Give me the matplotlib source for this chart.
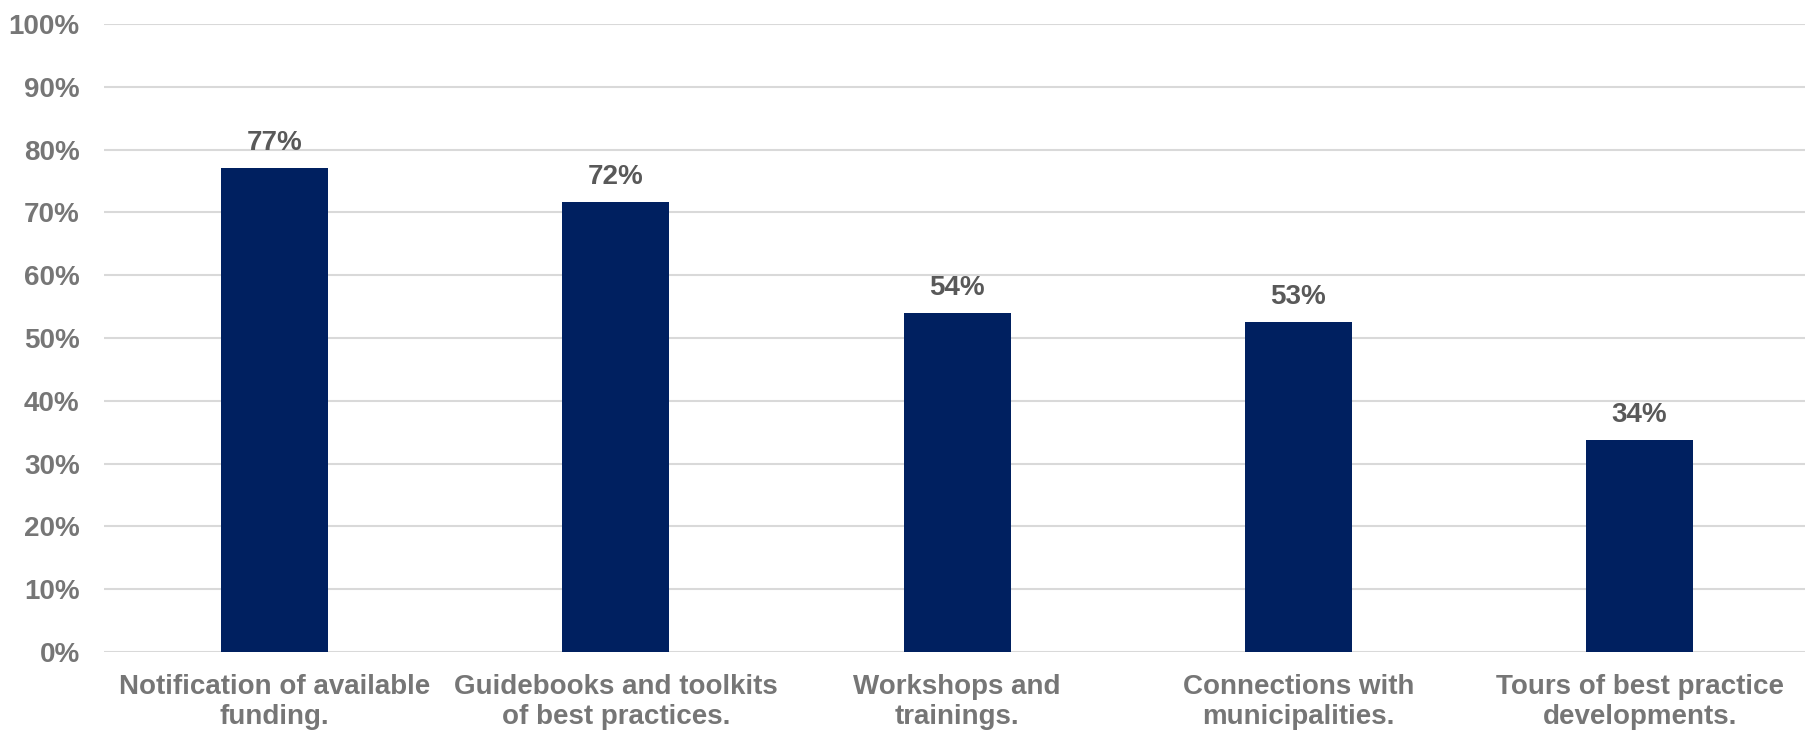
import matplotlib
matplotlib.use("Agg")
import matplotlib.pyplot as plt

categories = [
    "Notification of available\nfunding.",
    "Guidebooks and toolkits\nof best practices.",
    "Workshops and\ntrainings.",
    "Connections with\nmunicipalities.",
    "Tours of best practice\ndevelopments.",
]
values = [77.0, 71.6, 54.0, 52.6, 33.7]
y_ticks = list(range(0, 101, 10))

plt.rcParams["font.family"] = ["Liberation Sans", "DejaVu Sans"]
plt.rcParams["font.weight"] = "bold"

W, H = 1806, 730
fig = plt.figure(figsize=(W / 100, H / 100), dpi=100)
left, right, bottom, top = 104, 1806, 652, 24
ax = fig.add_axes([left / W, (H - bottom) / H, (right - left) / W, (bottom - top) / H])

x = list(range(len(categories)))
ax.bar(x, values, width=0.314, color="#002060", zorder=3)

for xi, v in zip(x, values):
    ax.annotate(f"{v:.0f}%", (xi, v), xytext=(0, 8.7), textcoords="offset points",
                ha="center", va="bottom", fontsize=20, fontweight="bold", color="#595959")

ax.set_ylim(0, 100)
ax.set_xlim(-0.5, -0.5 + (right - left) / 341.25)
ax.set_yticks(y_ticks)
ax.set_yticklabels([f"{t}%" for t in y_ticks])
ax.set_xticks(x)
ax.set_xticklabels(categories)

ax.grid(axis="y", color="#d9d9d9", linewidth=1.5, zorder=0)
for s in ax.spines.values():
    s.set_visible(False)
ax.tick_params(axis="y", length=0, pad=17.5, labelsize=20, labelcolor="#767676")
ax.tick_params(axis="x", length=0, pad=16, labelsize=20, labelcolor="#767676")
for lbl in ax.get_xticklabels() + ax.get_yticklabels():
    lbl.set_fontweight("bold")
for lbl in ax.get_xticklabels():
    lbl.set_linespacing(1.19)

fig.savefig("out.png", dpi=100)
